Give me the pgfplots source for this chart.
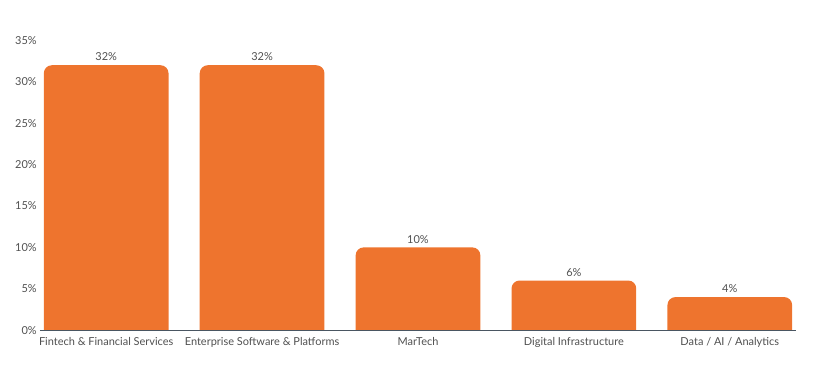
\documentclass[border=0pt]{standalone}
\usepackage{pgfplots}
\pgfplotsset{compat=1.18}
\usepackage{fontspec}
\setmainfont{Lato}
\definecolor{barorange}{HTML}{EE742E}
\definecolor{axisgray}{HTML}{4A5662}
\definecolor{txtgray}{HTML}{505050}
\begin{document}
\begin{tikzpicture}
\begin{axis}[
  scale only axis,
  width=758pt, height=302.95pt,
  xmin=-0.425, xmax=4.425,
  y coord trafo/.code={\pgfmathparse{#1+1.5}},
  y coord inv trafo/.code={\pgfmathparse{#1-1.5}},
  ymin=-1.5, ymax=35,
  ybar, bar shift=0pt, bar width=125pt,
  axis x line*=bottom, axis y line*=left,
  y axis line style={draw=none},
  x axis line style={draw=none},
  major tick length=0pt,
  xtick={0,1,2,3,4},
  xticklabels={Fintech \& Financial Services, Enterprise Software \& Platforms, MarTech, Digital Infrastructure, Data / AI / Analytics},
  ytick={0,5,...,35},
  yticklabel={\pgfmathparse{round(\tick)}\pgfmathprintnumber[fixed,precision=0]{\pgfmathresult}\%},
  /pgf/number format/assume math mode=true,
  tick label style={font=\fontsize{11}{13}\selectfont, text=txtgray},
  yticklabel style={inner xsep=0pt, xshift=-3pt},
  xticklabel style={inner ysep=0pt, yshift=5pt},
  clip mode=individual,
]
\clip (axis cs:-0.425,0) rectangle (axis cs:4.425,35);
\addplot[fill=barorange, draw=none, rounded corners=8pt,
  point meta=rawy,
  nodes near coords={\pgfmathprintnumber{\pgfplotspointmeta}\%},
  nodes near coords style={font=\fontsize{11}{13}\selectfont, text=txtgray, inner ysep=0pt, yshift=4pt, /pgf/number format/assume math mode=true}]
  coordinates {(0,32) (1,32) (2,10) (3,6) (4,4)};
\coordinate (o) at (axis cs:-0.425,0);
\coordinate (e) at (axis cs:4.425,0);
\end{axis}
\draw[axisgray, line width=1.2pt] (o) -- (e);
\pgfresetboundingbox
\path ([shift={(-40pt,-39pt)}]o) rectangle ([shift={(782pt,331pt)}]o);
\end{tikzpicture}
\end{document}
